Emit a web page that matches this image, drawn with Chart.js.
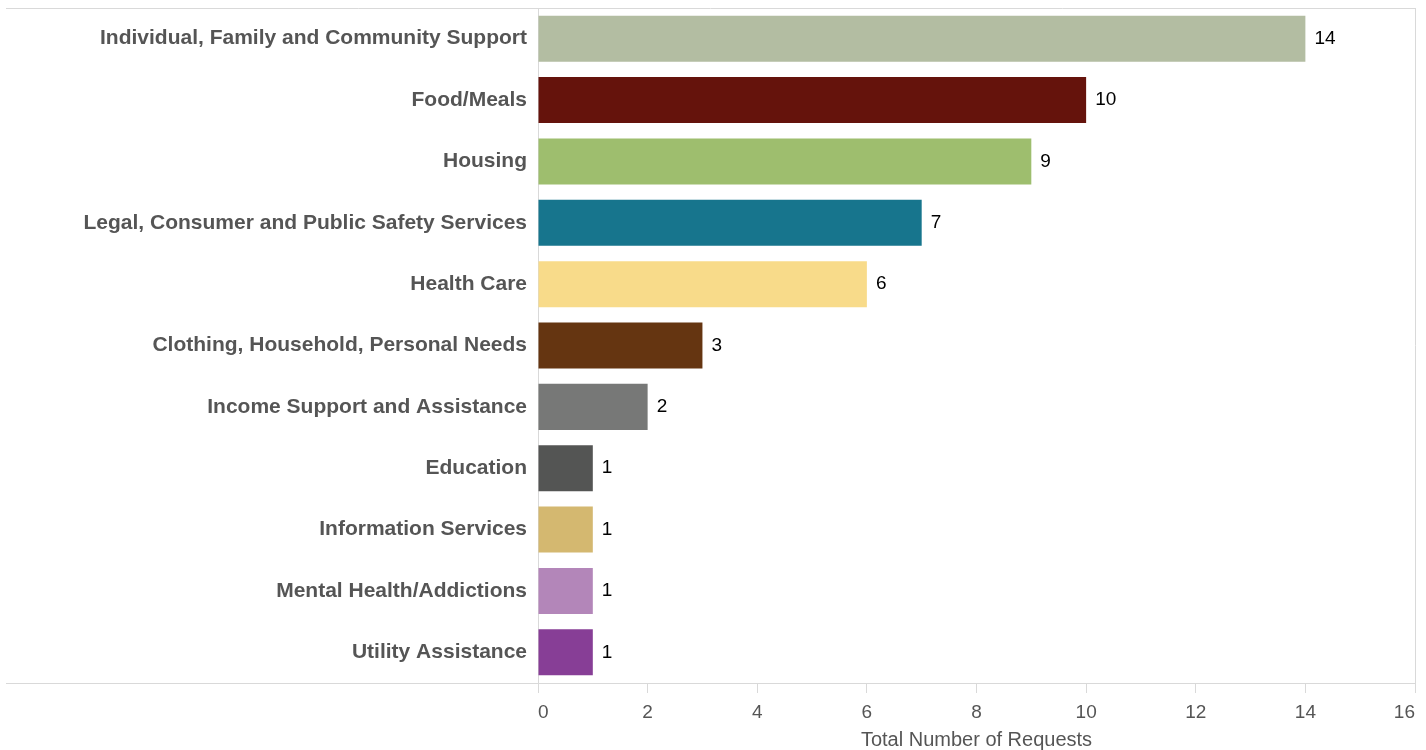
<!DOCTYPE html>
<html>
<head>
<meta charset="utf-8">
<script src="https://cdn.jsdelivr.net/npm/chart.js@4.4.1/dist/chart.umd.min.js"></script>
<style>
  html, body { margin: 0; padding: 0; background: #fff; }
  #wrap { width: 1426px; height: 750px; }
</style>
</head>
<body>
<div id="wrap"><canvas id="grafica"></canvas></div>
<script>
// categorias y totales
const categorias = [
  'Individual, Family and Community Support',
  'Food/Meals',
  'Housing',
  'Legal, Consumer and Public Safety Services',
  'Health Care',
  'Clothing, Household, Personal Needs',
  'Income Support and Assistance',
  'Education',
  'Information Services',
  'Mental Health/Addictions',
  'Utility Assistance'
];
const totales = [14, 10, 9, 7, 6, 3, 2, 1, 1, 1, 1];
const colores = [
  '#b3bda2', '#65130c', '#9ebe6e', '#17758d', '#f8db8a', '#653511',
  '#777877', '#545554', '#d4b870', '#b386b9', '#873e96'
];
const ticksX = [0, 2, 4, 6, 8, 10, 12, 14, 16];

const gris = '#d9d9d9';
const fuente = "Arial, 'Liberation Sans', sans-serif";

// lineas del marco (arriba, abajo hasta el borde izquierdo, derecha)
const marco = {
  id: 'marco',
  afterDraw(chart) {
    const ctx = chart.ctx;
    const a = chart.chartArea;
    ctx.save();
    ctx.strokeStyle = gris;
    ctx.lineWidth = 1;
    ctx.beginPath();
    ctx.moveTo(6, a.top + 0.5);
    ctx.lineTo(a.right, a.top + 0.5);
    ctx.moveTo(6, a.bottom + 0.5);
    ctx.lineTo(a.left, a.bottom + 0.5);
    ctx.moveTo(a.right + 0.5, a.top);
    ctx.lineTo(a.right + 0.5, a.bottom);
    ctx.stroke();
    ctx.restore();
  }
};

// etiquetas con el valor al final de cada barra
const etiquetas = {
  id: 'etiquetas',
  afterDatasetsDraw(chart) {
    const ctx = chart.ctx;
    const meta = chart.getDatasetMeta(0);
    ctx.save();
    ctx.fillStyle = '#000';
    ctx.font = '19px ' + fuente;
    ctx.textAlign = 'left';
    ctx.textBaseline = 'middle';
    meta.data.forEach((bar, i) => {
      ctx.fillText(String(totales[i]), bar.x + 9, bar.y);
    });
    ctx.restore();
  }
};

new Chart(document.getElementById('grafica').getContext('2d'), {
  type: 'bar',
  data: {
    labels: categorias,
    datasets: [{
      data: totales,
      backgroundColor: colores,
      borderWidth: 0,
      barPercentage: 0.75,
      categoryPercentage: 1
    }]
  },
  options: {
    indexAxis: 'y',
    responsive: true,
    maintainAspectRatio: false,
    animation: false,
    layout: { padding: { left: 6, right: 11, top: 8, bottom: 0 } },
    plugins: {
      legend: { display: false },
      tooltip: { enabled: false }
    },
    scales: {
      x: {
        min: 0,
        max: 16,
        afterBuildTicks(scale) {
          scale.ticks = ticksX.map(v => ({ value: v }));
        },
        afterFit(scale) {
          scale.paddingLeft = 0;
          scale.paddingRight = 0;
          scale.height = 67;
        },
        grid: {
          drawOnChartArea: false,
          drawTicks: true,
          tickLength: 10,
          color: gris
        },
        border: { display: true, color: gris },
        ticks: {
          color: '#555',
          padding: 8,
          align: 'inner',
          font: { family: fuente, size: 19 }
        },
        title: {
          display: true,
          text: 'Total Number of Requests',
          color: '#555',
          font: { family: fuente, size: 20, lineHeight: 1 },
          padding: { top: 0, bottom: 0 }
        }
      },
      y: {
        afterFit(scale) {
          scale.width = 532;
          scale.paddingTop = 0;
          scale.paddingBottom = 0;
        },
        grid: { display: true, drawOnChartArea: false, drawTicks: false },
        border: { display: true, color: gris },
        ticks: {
          color: '#555',
          padding: 11,
          font: { family: fuente, size: 21, weight: 'bold' }
        }
      }
    }
  },
  plugins: [marco, etiquetas]
});
</script>
</body>
</html>
